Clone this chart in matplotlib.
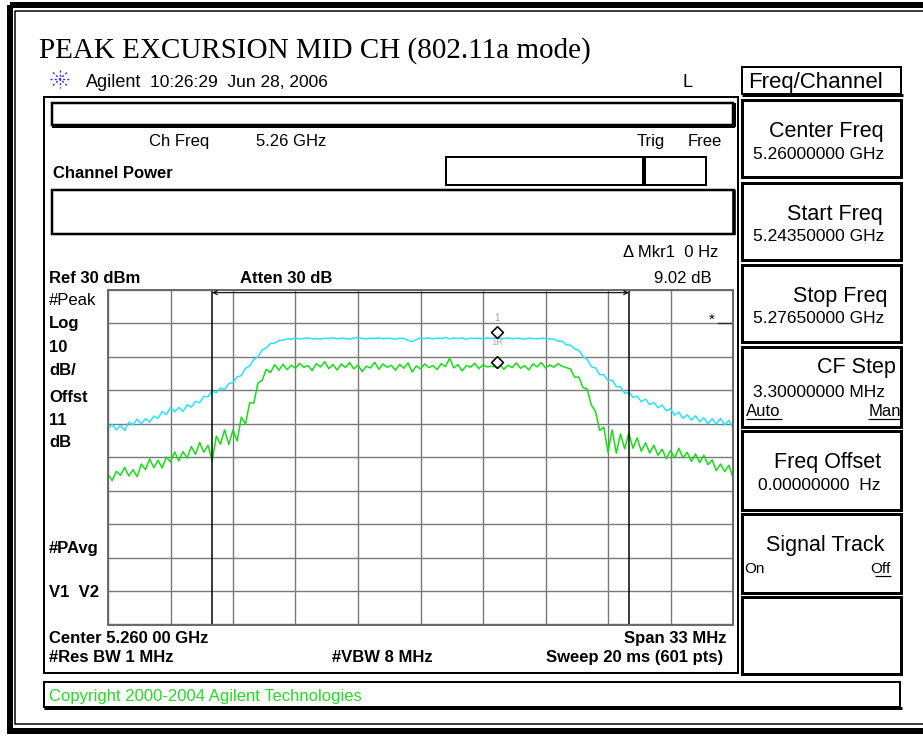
import numpy as np
import matplotlib
matplotlib.use('Agg')
import matplotlib.pyplot as plt
from matplotlib.patches import Rectangle
from matplotlib.path import Path

plt.rcParams['font.family'] = ['Liberation Sans', 'DejaVu Sans']

# sweep 5.2435 - 5.2765 GHz, x shown as offset from centre in MHz
span_mhz = 33.0
ref_level = 30.0
bottom_level = -70.0
n_pts = 151
freq_mhz = np.linspace(-span_mhz / 2, span_mhz / 2, n_pts)

# trace 1 (cyan, max hold peak), dBm
peak_trace = [
    -11.5, -10.2, -11.8, -10.5, -12.0, -9.5, -10.3, -8.6, -10.0, -8.5,
    -9.5, -7.7, -8.4, -6.3, -7.3, -5.1, -6.4, -5.1, -6.3, -4.3,
    -5.0, -3.3, -3.7, -1.8, -1.9, -0.2, -0.7, 0.7, 0.3, 2.0,
    2.4, 4.0, 4.4, 6.6, 7.3, 9.3, 10.0, 12.1, 12.7, 14.0,
    14.1, 14.9, 15.0, 15.4,
    15.3, 15.6, 15.4, 15.5, 15.7, 15.4, 15.5, 15.3, 15.6, 15.5,
    15.7, 15.4, 15.6, 15.5, 15.3, 15.6, 15.8, 15.5, 15.4, 15.6,
    15.5, 15.7, 15.4, 15.6, 15.5, 15.3, 15.6, 15.5, 14.9, 14.6,
    15.2, 15.6, 15.5, 15.7, 15.4, 15.6, 15.5, 15.8, 15.4, 15.6,
    15.5, 15.7, 15.3, 15.6, 15.5, 15.6, 15.4, 15.7, 15.5, 15.6,
    15.4, 15.5, 15.7, 15.4, 15.6, 15.5, 15.3, 15.6, 15.5, 15.4,
    15.6, 15.5,
    15.4, 15.3, 14.7, 14.7, 13.6, 13.5, 12.4, 12.0, 10.1, 9.3,
    7.1, 6.7, 4.7, 4.7, 2.9, 3.1, 1.1, 1.1, -0.9, -0.5,
    -2.1, -1.7, -3.4, -2.6, -4.3, -3.6, -5.2, -4.4, -6.1, -5.5,
    -7.4, -6.5, -8.4, -7.3, -8.9, -7.6, -9.4, -8.2, -10.0, -8.5,
    -10.1, -8.4, -10.3, -9.0, -11.2,
]

# trace 2 (green, power average), dBm
avg_trace = [
    -25.1, -27.0, -24.2, -25.4, -23.0, -25.6, -23.7, -25.8, -22.0, -23.7,
    -20.5, -23.1, -20.9, -23.2, -19.9, -21.4, -18.4, -21.1, -18.3, -20.2,
    -16.8, -19.1, -15.6, -18.5, -16.4, -21.0, -13.7, -16.1, -11.8, -16.2,
    -11.8, -15.1, -8.0, -10.1, -3.7, -3.8, 2.2, 3.0, 6.3, 5.3,
    7.7, 6.0,
    7.8, 6.2, 7.5, 6.6, 8.1, 6.9, 7.4, 5.9, 8.0, 7.0,
    8.6, 6.5, 7.7, 6.1, 7.9, 6.8, 8.3, 6.4, 7.6, 5.6,
    7.2, 6.7, 8.4, 6.3, 7.9, 6.9, 7.5, 6.0, 7.8, 6.6,
    8.2, 5.5, 7.3, 6.4, 7.9, 6.8, 7.4, 6.2, 8.0, 7.1,
    9.6, 6.7, 7.7, 5.8, 7.4, 6.9, 8.1, 6.5, 7.6, 7.0,
    7.2, 7.0, 7.8, 6.3, 7.5, 6.8, 8.2, 6.6, 7.4, 6.1,
    7.9, 7.0, 8.3, 6.7, 7.6, 6.9, 8.0, 7.2, 6.8,
    6.4, 3.9, 4.0, 0.8, 0.4, -4.4, -6.3, -12.0, -11.0, -18.5,
    -11.8, -18.8, -13.0, -17.5, -12.8, -17.3, -14.2, -18.2, -15.7, -18.7,
    -16.4, -19.4, -17.6, -20.5, -18.0, -20.2, -17.3, -20.2, -18.5, -21.2,
    -19.0, -21.6, -19.4, -22.2, -20.8, -24.0, -22.0, -24.3, -22.4, -26.0,
]

marker_freq = 4.04
marker_levels = [15.6, 6.6]
band_edges = [-11.0, 11.0]

softkeys = [
    ('Center Freq', '5.26000000 GHz'),
    ('Start Freq', '5.24350000 GHz'),
    ('Stop Freq', '5.27650000 GHz'),
    ('CF Step', '3.30000000 MHz'),
    ('Freq Offset', '0.00000000  Hz'),
    ('Signal Track', ''),
    ('', ''),
]
key_tops = [100, 183, 265, 347, 431, 514, 597]
key_bottoms = [177, 260, 342, 427, 510, 593, 674]
key_title_x = [769, 787, 793, 817, 774, 766, 0]
key_title_dy = [37, 37, 37, 26, 37, 37, 0]
key_value_x = [753, 753, 753, 753, 758, 0, 0]
key_value_dy = [59, 58, 58, 50, 59, 0, 0]

W, H = 923, 736
fig = plt.figure(figsize=(W / 100, H / 100), dpi=100)

# background layer in pixel coordinates
bg = fig.add_axes([0, 0, 1, 1])
bg.set_xlim(0, W)
bg.set_ylim(H, 0)
bg.axis('off')

PX = 0.72  # points per pixel


def box(x0, y0, x1, y1, lw=2.0):
    bg.add_patch(Rectangle((x0, y0), x1 - x0, y1 - y0, fill=False,
                           ec='black', lw=lw * PX))


def hline(x0, x1, y, lw=1.0, color='black'):
    bg.plot([x0, x1], [y, y], color=color, lw=lw * PX, solid_capstyle='butt')


def vline(x, y0, y1, lw=1.0, color='black'):
    bg.plot([x, x], [y0, y1], color=color, lw=lw * PX, solid_capstyle='butt')


def txt(x, y, s, size=12, bold=False, ha='left', color='black', **kw):
    bg.text(x, y, s, fontsize=size, fontweight='bold' if bold else 'normal',
            ha=ha, va='baseline', color=color, **kw)


# outer double frame (right side runs off the page)
box(9.5, 5, 935, 731, lw=6)
box(15, 11, 935, 724, lw=1.5)

# page title
txt(39, 58, 'PEAK EXCURSION MID CH (802.11a mode)', size=21,
    family=['Liberation Serif', 'DejaVu Serif'])

# agilent logo + header line
for dx, dy in [(10, 0), (0, 9), (7, 6.5), (7, -6.5)]:
    bg.plot([60 - dx, 60 + dx], [79 - dy, 79 + dy], color='#3030ff',
            lw=1.4 * PX, ls=(0, (1.5, 1.5)))
txt(86, 87, 'Agilent', size=13)
txt(150, 87, '10:26:29  Jun 28, 2006', size=12.5)
txt(683, 87, 'L', size=13)

# main screen frame
box(44, 97, 738, 673, lw=2)

# upper bars
box(52, 103, 733, 125, lw=2.5)
hline(52, 735, 125.5, lw=4)
vline(733.5, 103, 127, lw=4)
txt(149, 146, 'Ch Freq', size=12)
txt(256, 146, '5.26 GHz', size=12)
txt(637, 146, 'Trig', size=12)
txt(688, 146, 'Free', size=12)
txt(53, 178, 'Channel Power', size=12, bold=True)
box(446, 157, 644, 185, lw=2)
box(644, 157, 706, 185, lw=2)
vline(644, 157, 186, lw=4)
box(52, 190, 734, 234, lw=2.5)
vline(734, 190, 235, lw=3.5)

txt(718, 257, '\u0394 Mkr1  0 Hz', size=12, ha='right')
txt(712, 283, '9.02 dB', size=12, ha='right')
txt(49, 283, 'Ref 30 dBm', size=12, bold=True)
txt(240, 283, 'Atten 30 dB', size=12, bold=True)

side_labels = [('#Peak', 305, False), ('Log', 328, True), ('10', 352, True),
               ('dB/', 375, True), ('Offst', 402, True), ('11', 425, True),
               ('dB', 447, True), ('#PAvg', 553, True), ('V1  V2', 597, True)]
for s, y, b in side_labels:
    txt(49, y, s, size=12, bold=b)

txt(49, 643, 'Center 5.260 00 GHz', size=12, bold=True)
txt(727, 643, 'Span 33 MHz', size=12, bold=True, ha='right')
txt(49, 662, '#Res BW 1 MHz', size=12, bold=True)
txt(332, 662, '#VBW 8 MHz', size=12, bold=True)
txt(723, 662, 'Sweep 20 ms (601 pts)', size=12, bold=True, ha='right')

# copyright bar
box(44, 682, 900, 707, lw=2)
hline(44, 902, 707.5, lw=3)
txt(49, 701, 'Copyright 2000-2004 Agilent Technologies', size=12,
    color='#22dd22')

# softkey panel
box(742, 67, 901, 94, lw=2)
hline(742, 903, 94.5, lw=3)
txt(748, 88, 'Freq/Channel', size=16)
for k, (title, value) in enumerate(softkeys):
    t, b = key_tops[k], key_bottoms[k]
    box(742, t, 901, b, lw=3)
    if title:
        txt(key_title_x[k], t + key_title_dy[k], title, size=15.5)
    if value:
        txt(key_value_x[k], t + key_value_dy[k], value, size=12.5)
# CF Step auto/man, signal track on/off
txt(746, 416, 'Auto', size=12)
hline(746, 782, 419, lw=1.2)
txt(901, 416, 'Man', size=12, ha='right')
hline(868, 901, 419, lw=1.2)
txt(744, 573, 'On', size=11)
txt(891, 573, 'Off', size=11, ha='right')
hline(875, 891, 576, lw=1.2)

# spectrum graticule
ax = fig.add_axes([108 / W, 1 - 624.5 / H, 625 / W, 334.5 / H])
ax.set_xlim(-span_mhz / 2, span_mhz / 2)
ax.set_ylim(bottom_level, ref_level)
ax.set_xticks(np.linspace(-span_mhz / 2, span_mhz / 2, 11))
ax.set_yticks(np.arange(bottom_level, ref_level + 1, 10))
ax.grid(True, color='#7a7a7a', lw=1.4 * PX)
ax.tick_params(left=False, bottom=False, labelleft=False, labelbottom=False)
for sp in ax.spines.values():
    sp.set_color('#6a6a6a')
    sp.set_linewidth(2 * PX)

ax.plot(freq_mhz, peak_trace, color='#22e4ff', lw=1.5 * PX)
ax.plot(freq_mhz, avg_trace, color='#11e011', lw=1.5 * PX)

for f in band_edges:
    ax.axvline(f, color='black', lw=1.5 * PX)
ax.annotate('', xy=(band_edges[0], 29.2), xytext=(band_edges[1], 29.2),
            arrowprops=dict(arrowstyle='<->', lw=0.8, color='black',
                            mutation_scale=7, shrinkA=0, shrinkB=0))

# diamond markers sitting on the traces
diamond = Path([(0, 0), (-1, 1), (0, 2), (1, 1), (0, 0)])
for lvl in marker_levels:
    ax.plot([marker_freq], [lvl], marker=diamond, ms=17, mfc='white',
            mec='black', mew=1.6 * PX, ls='none', zorder=5)
ax.text(marker_freq, 21.5, '1', fontsize=7, color='#a0a0a0', ha='center',
        va='center')
ax.text(marker_freq, 14.6, '1R', fontsize=7, color='#b0b0b0', ha='center',
        va='center')
# display-line star at the right edge
ax.text(15.4, 21.2, '*', fontsize=11, color='black', ha='center',
        va='center')
ax.plot([15.7, 16.4], [20.0, 20.0], color='#303030', lw=1.4 * PX)

fig.savefig('out.png', dpi=100)
